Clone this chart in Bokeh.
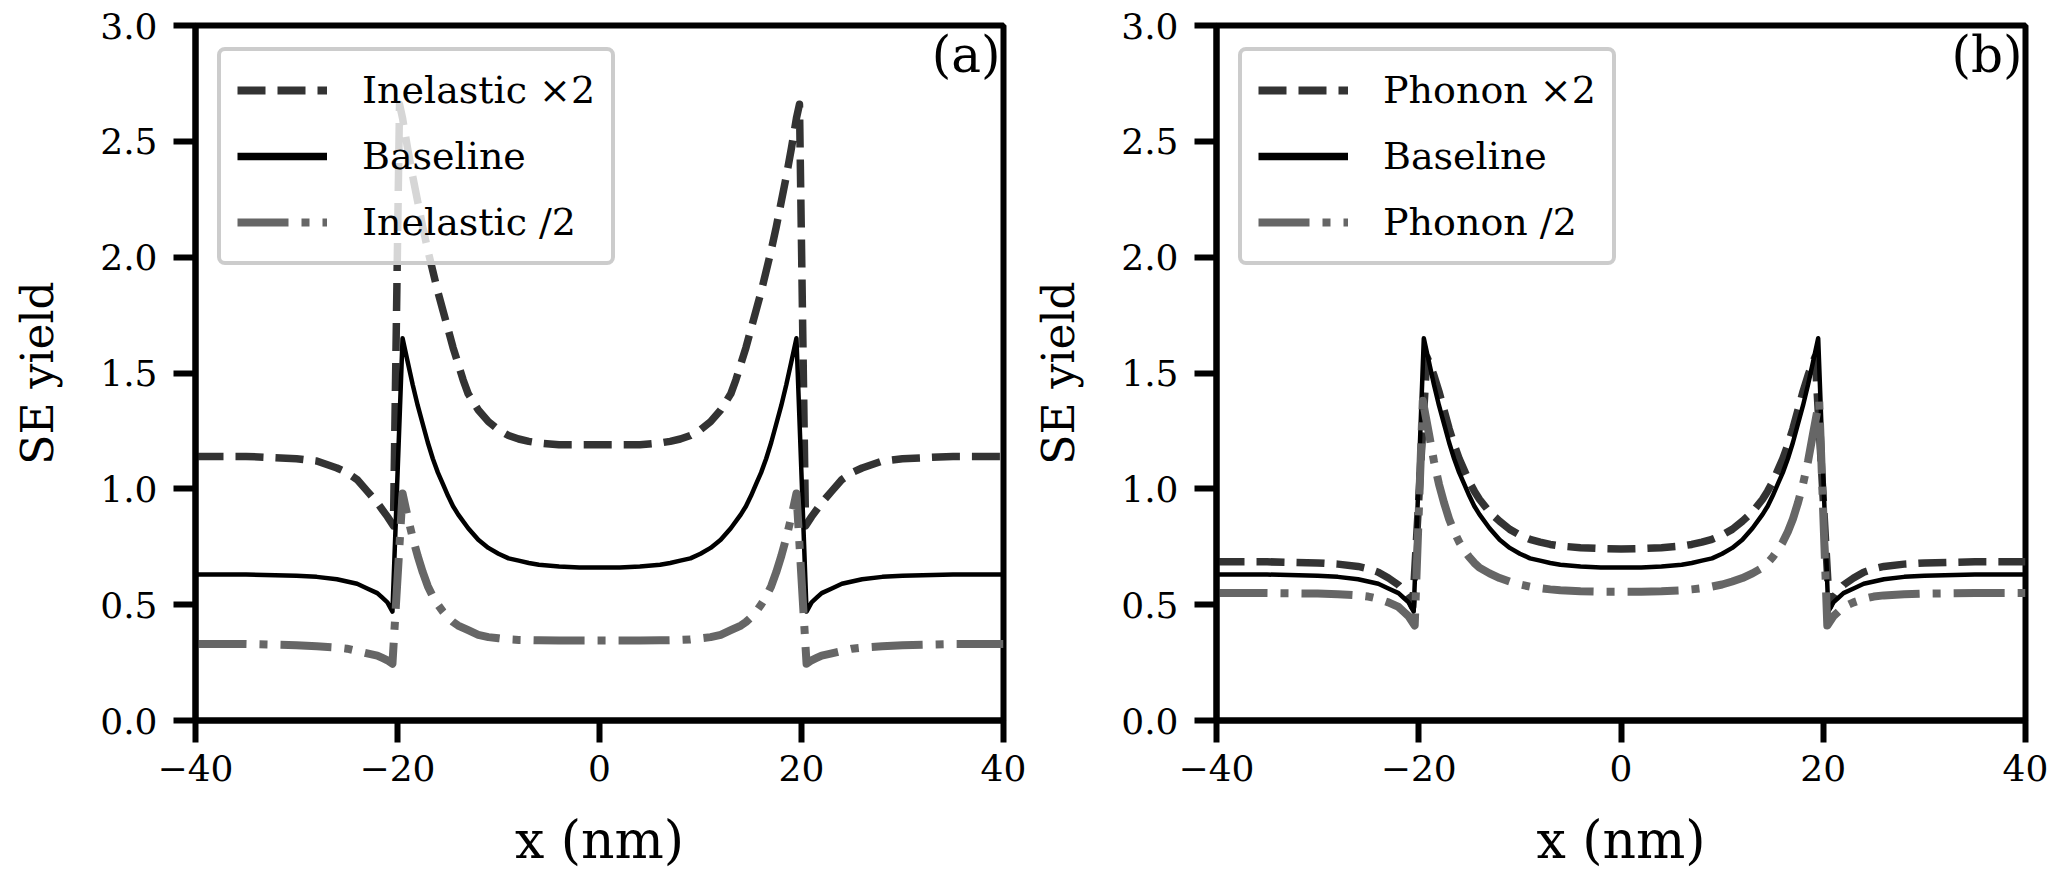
from bokeh.plotting import figure
from bokeh.models import Range1d, FixedTicker, Label, Legend, LegendItem, PrintfTickFormatter
from bokeh.layouts import row
from bokeh.embed import file_html
from bokeh.resources import INLINE

# ---------------- data ----------------
x_ticks = [-40, -20, 0, 20, 40]
x_tick_labels = ["\u221240", "\u221220", "0", "20", "40"]
y_ticks = [0.0, 0.5, 1.0, 1.5, 2.0, 2.5, 3.0]

# Baseline (same in both panels)
x_base = [-40, -35, -30, -28, -26, -25, -24, -23, -22, -21.5, -21, -20.5,
          -19.5, -19, -18.5, -18, -17.5, -17, -16.5, -16, -15.5, -15, -14.5, -14,
          -13, -12, -11, -10, -9, -8, -7, -6, -4, -2, 0,
          2, 4, 6, 7, 8, 9, 10, 11, 12, 13,
          14, 14.5, 15, 15.5, 16, 16.5, 17, 17.5, 18, 18.5, 19, 19.5,
          20.5, 21, 21.5, 22, 23, 24, 25, 26, 28, 30, 35, 40]
y_base = [0.63, 0.63, 0.625, 0.62, 0.61, 0.60, 0.59, 0.57, 0.55, 0.53, 0.51, 0.47,
          1.65, 1.55, 1.45, 1.36, 1.28, 1.20, 1.13, 1.07, 1.02, 0.97, 0.925, 0.89,
          0.83, 0.78, 0.745, 0.72, 0.70, 0.69, 0.68, 0.672, 0.665, 0.66, 0.66,
          0.66, 0.665, 0.672, 0.68, 0.69, 0.70, 0.72, 0.745, 0.78, 0.83,
          0.89, 0.925, 0.97, 1.02, 1.07, 1.13, 1.20, 1.28, 1.36, 1.45, 1.55, 1.65,
          0.47, 0.51, 0.53, 0.55, 0.57, 0.59, 0.60, 0.61, 0.62, 0.625, 0.63, 0.63]

# Panel (a): Inelastic x2
x_inel2 = [-40, -35, -30, -28, -26, -25, -24, -23, -22, -21.5, -21, -20.4,
           -19.8, -19.5, -19, -18.5, -18, -17.5, -17, -16.5, -16, -15.5, -15, -14.5, -14, -13.5, -13,
           -12, -11, -10, -9, -8, -7, -6, -4, -2, 0,
           2, 4, 6, 7, 8, 9, 10, 11, 12,
           13, 13.5, 14, 14.5, 15, 15.5, 16, 16.5, 17, 17.5, 18, 18.5, 19, 19.5, 19.8,
           20.4, 21, 21.5, 22, 23, 24, 25, 26, 28, 30, 35, 40]
y_inel2 = [1.14, 1.14, 1.13, 1.12, 1.09, 1.07, 1.04, 0.99, 0.94, 0.91, 0.88, 0.84,
           2.66, 2.60, 2.47, 2.35, 2.24, 2.13, 2.03, 1.94, 1.85, 1.77, 1.69, 1.61, 1.54, 1.47, 1.41,
           1.34, 1.29, 1.255, 1.23, 1.215, 1.205, 1.198, 1.19, 1.19, 1.19,
           1.19, 1.19, 1.198, 1.205, 1.215, 1.23, 1.255, 1.29, 1.34,
           1.41, 1.47, 1.54, 1.61, 1.69, 1.77, 1.85, 1.94, 2.03, 2.13, 2.24, 2.35, 2.47, 2.60, 2.66,
           0.84, 0.88, 0.91, 0.94, 0.99, 1.04, 1.07, 1.09, 1.12, 1.13, 1.14, 1.14]

# Panel (a): Inelastic /2
x_inelh = [-40, -35, -30, -28, -26, -25, -24, -23, -22, -21.5, -21, -20.5,
           -19.5, -19, -18.5, -18, -17.5, -17, -16.5, -16, -15.5, -15, -14.5, -14,
           -13, -12, -11, -10, -9, -8, -7, -6, -4, -2, 0,
           2, 4, 6, 7, 8, 9, 10, 11, 12, 13,
           14, 14.5, 15, 15.5, 16, 16.5, 17, 17.5, 18, 18.5, 19, 19.5,
           20.5, 21, 21.5, 22, 23, 24, 25, 26, 28, 30, 35, 40]
y_inelh = [0.33, 0.33, 0.325, 0.32, 0.315, 0.31, 0.30, 0.29, 0.28, 0.27, 0.26, 0.245,
           0.98, 0.88, 0.79, 0.71, 0.64, 0.58, 0.535, 0.50, 0.47, 0.445, 0.425, 0.41,
           0.39, 0.37, 0.36, 0.355, 0.35, 0.348, 0.347, 0.346, 0.345, 0.345, 0.345,
           0.345, 0.345, 0.346, 0.347, 0.348, 0.35, 0.355, 0.36, 0.37, 0.39,
           0.41, 0.425, 0.445, 0.47, 0.50, 0.535, 0.58, 0.64, 0.71, 0.79, 0.88, 0.98,
           0.245, 0.26, 0.27, 0.28, 0.29, 0.30, 0.31, 0.315, 0.32, 0.325, 0.33, 0.33]

# Panel (b): Phonon x2
x_ph2 = [-40, -35, -30, -28, -26, -25, -24, -23, -22, -21.5, -21, -20.6,
         -19.2, -19, -18.5, -18, -17.5, -17, -16.5, -16, -15.5, -15, -14.5, -14,
         -13, -12, -11, -10, -9, -8, -7, -6, -4, -2, 0,
         2, 4, 6, 7, 8, 9, 10, 11, 12, 13,
         14, 14.5, 15, 15.5, 16, 16.5, 17, 17.5, 18, 18.5, 19, 19.2,
         20.6, 21, 21.5, 22, 23, 24, 25, 26, 28, 30, 35, 40]
y_ph2 = [0.685, 0.685, 0.68, 0.675, 0.665, 0.655, 0.64, 0.615, 0.585, 0.56, 0.53, 0.49,
         1.57, 1.55, 1.49, 1.42, 1.34, 1.26, 1.19, 1.13, 1.08, 1.03, 0.99, 0.955,
         0.90, 0.86, 0.825, 0.80, 0.782, 0.77, 0.76, 0.753, 0.746, 0.742, 0.74,
         0.742, 0.746, 0.753, 0.76, 0.77, 0.782, 0.80, 0.825, 0.86, 0.90,
         0.955, 0.99, 1.03, 1.08, 1.13, 1.19, 1.26, 1.34, 1.42, 1.49, 1.55, 1.57,
         0.49, 0.53, 0.56, 0.585, 0.615, 0.64, 0.655, 0.665, 0.675, 0.68, 0.685, 0.685]

# Panel (b): Phonon /2
x_phh = [-40, -35, -30, -28, -26, -25, -24, -23, -22, -21.5, -21, -20.4,
         -19.6, -19, -18.5, -18, -17.5, -17, -16.5, -16, -15.5, -15, -14.5, -14,
         -13, -12, -11, -10, -9, -8, -7, -6, -4, -2, 0,
         2, 4, 6, 7, 8, 9, 10, 11, 12, 13,
         14, 14.5, 15, 15.5, 16, 16.5, 17, 17.5, 18, 18.5, 19, 19.6,
         20.4, 21, 21.5, 22, 23, 24, 25, 26, 28, 30, 35, 40]
y_phh = [0.55, 0.55, 0.548, 0.545, 0.54, 0.535, 0.525, 0.51, 0.49, 0.47, 0.45, 0.41,
         1.38, 1.24, 1.12, 1.02, 0.94, 0.87, 0.815, 0.77, 0.735, 0.705, 0.68, 0.66,
         0.635, 0.615, 0.60, 0.587, 0.578, 0.571, 0.566, 0.562, 0.558, 0.556, 0.556,
         0.556, 0.558, 0.562, 0.566, 0.571, 0.578, 0.587, 0.60, 0.615, 0.635,
         0.66, 0.68, 0.705, 0.735, 0.77, 0.815, 0.87, 0.94, 1.02, 1.12, 1.24, 1.38,
         0.41, 0.45, 0.47, 0.49, 0.51, 0.525, 0.535, 0.54, 0.545, 0.548, 0.55, 0.55]

labels_a = ["Inelastic \u00d72", "Baseline", "Inelastic /2"]
labels_b = ["Phonon \u00d72", "Baseline", "Phonon /2"]

# ---------------- styling ----------------
SERIF = "DejaVu Serif"
C_DASH = "#333333"
C_BASE = "#000000"
C_DOT = "#666666"
NAN = float("nan")


def make_panel(width, left, right, series, labels, tag):
    p = figure(width=width, height=879, x_range=Range1d(-40, 40), y_range=Range1d(0, 3),
               output_backend="svg", toolbar_location=None,
               min_border_left=left, min_border_right=right,
               min_border_top=25, min_border_bottom=159)
    p.grid.visible = False
    p.background_fill_color = "white"
    p.border_fill_color = "white"
    p.outline_line_color = "black"
    p.outline_line_width = 6
    p.outline_line_alpha = 1.0
    for ax in (p.xaxis[0], p.yaxis[0]):
        ax.axis_line_width = 6
        ax.axis_line_color = "black"
        ax.major_tick_out = 22
        ax.major_tick_in = 0
        ax.major_tick_line_width = 6
        ax.major_tick_line_color = "black"
        ax.minor_tick_line_color = None
        ax.major_label_text_font = SERIF
        ax.major_label_text_font_size = "36px"
        ax.major_label_text_color = "black"
        ax.axis_label_text_font = SERIF
        ax.axis_label_text_font_style = "normal"
        ax.axis_label_text_color = "black"
    p.xaxis.ticker = FixedTicker(ticks=x_ticks)
    p.xaxis.major_label_overrides = {t: s for t, s in zip(x_ticks, x_tick_labels)}
    p.xaxis.major_label_standoff = 12
    p.xaxis.axis_label = "x (nm)"
    p.xaxis.axis_label_text_font_size = "52px"
    p.xaxis.axis_label_standoff = 26
    p.yaxis.ticker = FixedTicker(ticks=y_ticks)
    p.yaxis.formatter = PrintfTickFormatter(format="%.1f")
    p.yaxis.major_label_standoff = 16
    p.yaxis.axis_label = "SE yield"
    p.yaxis.axis_label_text_font_size = "44px"
    p.yaxis.axis_label_standoff = 34

    styles = [dict(line_color=C_DASH, line_width=7.5, line_dash="28 12"),
              dict(line_color=C_BASE, line_width=4.5, line_dash="solid"),
              dict(line_color=C_DOT, line_width=8, line_dash="51 13 8 13")]
    legend_widths = [8, 7.5, 8]
    items = []
    for (xs, ys), st, lab, lw in zip(series, styles, labels, legend_widths):
        assert len(xs) == len(ys)
        p.line(x=xs, y=ys, line_join="round", **st)
        # legend swatch (NaN data draws nothing in the plot; thicker stroke as in the legend)
        st_leg = dict(st)
        st_leg["line_width"] = lw
        r_leg = p.line(x=[NAN, NAN], y=[NAN, NAN], **st_leg)
        items.append(LegendItem(label=lab, renderers=[r_leg]))

    leg = Legend(items=items, location="top_left")
    leg.margin = 22
    leg.padding = 16
    leg.spacing = 20
    leg.glyph_width = 90
    leg.glyph_height = 46
    leg.label_height = 46
    leg.label_standoff = 35
    leg.label_text_font = SERIF
    leg.label_text_font_size = "38px"
    leg.label_text_color = "black"
    leg.border_line_color = "#cccccc"
    leg.border_line_width = 4
    leg.border_line_alpha = 1.0
    leg.background_fill_color = "white"
    leg.background_fill_alpha = 0.8
    if "border_radius" in leg.properties():
        leg.border_radius = 8
    p.add_layout(leg)

    # panel tag
    p.add_layout(Label(x=39.7, y=3.0, text=tag, text_font=SERIF, text_font_size="50px",
                       text_align="right", text_baseline="top", text_color="black"))
    return p


pa = make_panel(1030, 195, 27, [(x_inel2, y_inel2), (x_base, y_base), (x_inelh, y_inelh)],
                labels_a, "(a)")
pb = make_panel(1029, 185, 34, [(x_ph2, y_ph2), (x_base, y_base), (x_phh, y_phh)],
                labels_b, "(b)")

layout = row(pa, pb)
open("out.html", "w").write(file_html(layout, INLINE))
